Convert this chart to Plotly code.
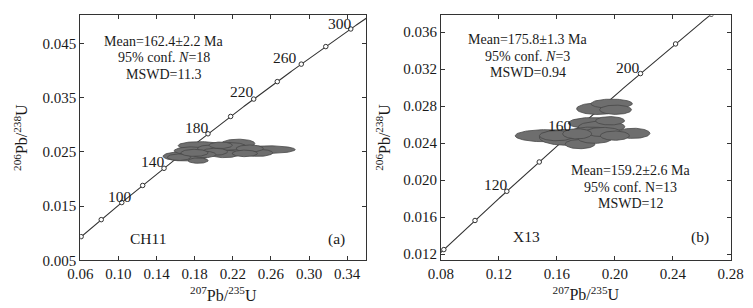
import numpy as np
import plotly.graph_objects as go

# decay constants (per year)
LAMBDA_238 = 1.55125e-10
LAMBDA_235 = 9.8485e-10

# concordia age markers (Ma)
marker_ages_a = [60, 80, 100, 120, 140, 160, 180, 200, 220, 240, 260, 280, 300]
label_ages_a = [100, 140, 180, 220, 260, 300]
marker_ages_b = [80, 100, 120, 140, 160, 180, 200, 220, 240]
label_ages_b = [120, 160, 200]

# panel (a) CH11 ellipses: centre 207Pb/235U, centre 206Pb/238U, half-widths
a_x = [0.1854, 0.2256, 0.1702, 0.1836, 0.2571, 0.2290, 0.2116, 0.2466, 0.1768,
       0.1971, 0.2174, 0.2012, 0.2377, 0.1900, 0.1636, 0.2073, 0.2326, 0.1798]
a_y = [0.02615, 0.02652, 0.02418, 0.02337, 0.02540, 0.02504, 0.02461, 0.02480, 0.02520,
       0.02560, 0.02600, 0.02500, 0.02560, 0.02450, 0.02400, 0.02620, 0.02470, 0.02480]
a_ex = [0.0228, 0.0175, 0.0234, 0.0105, 0.0283, 0.0163, 0.0152, 0.0152, 0.0183,
        0.0142, 0.0163, 0.0132, 0.0142, 0.0122, 0.0122, 0.0122, 0.0132, 0.0142]
a_ey = [0.00072, 0.00080, 0.00088, 0.00050, 0.00070, 0.00070, 0.00070, 0.00065, 0.00070,
        0.00065, 0.00070, 0.00065, 0.00065, 0.00060, 0.00060, 0.00060, 0.00060, 0.00065]

# panel (b) X13 ellipses
b_x = [0.1879, 0.1978, 0.2005,
       0.1530, 0.1657, 0.1760, 0.1845, 0.1909, 0.1840, 0.2127, 0.1863, 0.1967, 0.1920,
       0.1600, 0.1740, 0.2000]
b_y = [0.02771, 0.02825, 0.02760,
       0.02479, 0.02462, 0.02389, 0.02616, 0.02576, 0.02508, 0.02505, 0.02447, 0.02641, 0.02519,
       0.02480, 0.02500, 0.02480]
b_ex = [0.0143, 0.0143, 0.0110,
        0.0218, 0.0178, 0.0103, 0.0166, 0.0160, 0.0160, 0.0115, 0.0115, 0.0100, 0.0120,
        0.0120, 0.0100, 0.0100]
b_ey = [0.00062, 0.00050, 0.00050,
        0.00066, 0.00085, 0.00050, 0.00060, 0.00060, 0.00065, 0.00055, 0.00050, 0.00045, 0.00050,
        0.00055, 0.00055, 0.00050]

x_ticks_a = [0.06, 0.10, 0.14, 0.18, 0.22, 0.26, 0.30, 0.34]
y_ticks_a = [0.005, 0.015, 0.025, 0.035, 0.045]
x_ticks_b = [0.08, 0.12, 0.16, 0.20, 0.24, 0.28]
y_ticks_b = [0.012, 0.016, 0.020, 0.024, 0.028, 0.032, 0.036]


def concordia(age_ma):
    t = np.asarray(age_ma, dtype=float) * 1e6
    return np.exp(LAMBDA_235 * t) - 1, np.exp(LAMBDA_238 * t) - 1


FONT = "Liberation Serif, Times New Roman, serif"
ELL_FILL = "#6e6e6e"
ELL_LINE = "#474747"
LINE_COL = "#333333"
TXT_COL = "#1a1a1a"

fig = go.Figure()


def add_panel(xs, ys, exs, eys, marker_ages, age_lo, age_hi, xa, ya):
    cx, cy = concordia(np.linspace(age_lo, age_hi, 300))
    fig.add_trace(go.Scatter(x=cx, y=cy, mode="lines",
                             line=dict(color=LINE_COL, width=1.1),
                             xaxis=xa, yaxis=ya, showlegend=False))
    mx, my = concordia(marker_ages)
    fig.add_trace(go.Scatter(x=mx, y=my, mode="markers",
                             marker=dict(symbol="circle", size=4.5, color="white",
                                         line=dict(color=LINE_COL, width=1)),
                             xaxis=xa, yaxis=ya, showlegend=False))
    theta = np.linspace(0, 2 * np.pi, 80)
    for ex_c, ey_c, ex, ey in zip(xs, ys, exs, eys):
        fig.add_trace(go.Scatter(
            x=ex_c + ex * np.cos(theta), y=ey_c + ey * np.sin(theta),
            mode="lines", fill="toself", fillcolor=ELL_FILL,
            line=dict(color=ELL_LINE, width=0.8),
            xaxis=xa, yaxis=ya, showlegend=False, hoverinfo="skip"))


add_panel(a_x, a_y, a_ex, a_ey, marker_ages_a, 50, 330, "x", "y")
add_panel(b_x, b_y, b_ex, b_ey, marker_ages_b, 70, 250, "x2", "y2")

axis_common = dict(showline=True, linecolor="#333", linewidth=1, mirror="ticks",
                   ticks="inside", ticklen=4, tickcolor="#333", showgrid=False,
                   zeroline=False, automargin=False,
                   tickfont=dict(family=FONT, size=15, color=TXT_COL))

title_x = "<sup>207</sup>Pb/<sup>235</sup>U"
title_y = "<sup>206</sup>Pb/<sup>238</sup>U"
title_font = dict(family=FONT, size=16, color=TXT_COL)

fig.update_layout(
    width=753, height=308, margin=dict(l=0, r=0, t=0, b=0),
    paper_bgcolor="white", plot_bgcolor="white",
    font=dict(family=FONT, size=15, color=TXT_COL),
    xaxis=dict(domain=[0.0960, 0.4758], range=[0.06, 0.36], tickvals=x_ticks_a,
               ticktext=[f"{v:.2f}" for v in x_ticks_a], anchor="y",
               title=dict(text=title_x, standoff=8, font=title_font),
               **axis_common),
    yaxis=dict(domain=[0.181, 0.977], range=[0.005, 0.0502], tickvals=y_ticks_a,
               ticktext=[f"{v:.3f}" for v in y_ticks_a], anchor="x",
               title=dict(text=title_y, standoff=10, font=title_font),
               **axis_common),
    xaxis2=dict(domain=[0.5750, 0.9598], range=[0.08, 0.28], tickvals=x_ticks_b,
                ticktext=[f"{v:.2f}" for v in x_ticks_b], anchor="y2",
                title=dict(text=title_x, standoff=8, font=title_font),
                **axis_common),
    yaxis2=dict(domain=[0.183, 0.976], range=[0.0114, 0.0378], tickvals=y_ticks_b,
                ticktext=[f"{v:.3f}" for v in y_ticks_b], anchor="x2",
                title=dict(text=title_y, standoff=8, font=title_font),
                **axis_common),
)

annos = []


def txt(text, x, y, xref, yref, size=15.5):
    annos.append(dict(text=text, x=x, y=y, xref=xref, yref=yref, showarrow=False,
                      xanchor="center", yanchor="middle",
                      font=dict(family=FONT, size=size, color=TXT_COL)))


# panel (a) texts (stat block)
txt("Mean=162.4±2.2 Ma", 0.1477, 0.04530, "x", "y", 14)
txt("95% conf. <i>N</i>=18", 0.1477, 0.04244, "x", "y", 14)
txt("MSWD=11.3", 0.1477, 0.03922, "x", "y", 14)
a_label_pos = {100: (0.1014, 0.01677), 140: (0.1363, 0.02318), 180: (0.1828, 0.02956),
               220: (0.2301, 0.03605), 260: (0.2746, 0.04242), 300: (0.3323, 0.04858)}
for age in label_ages_a:
    px, py = a_label_pos[age]
    txt(str(age), px, py, "x", "y")
txt("CH11", 0.1311, 0.00892, "x", "y")
txt("(a)", 0.3285, 0.00892, "x", "y")

# panel (b) texts
txt("Mean=175.8±1.3 Ma", 0.1398, 0.03516, "x2", "y2", 14)
txt("95% conf. <i>N</i>=3", 0.1398, 0.03337, "x2", "y2", 14)
txt("MSWD=0.94", 0.1398, 0.03159, "x2", "y2", 14)
b_label_pos = {120: (0.1182, 0.01949), 160: (0.1625, 0.02591), 200: (0.2089, 0.03222)}
for age in label_ages_b:
    px, py = b_label_pos[age]
    txt(str(age), px, py, "x2", "y2")
txt("Mean=159.2±2.6 Ma", 0.2105, 0.02099, "x2", "y2", 14)
txt("95% conf. N=13", 0.2105, 0.01921, "x2", "y2", 14)
txt("MSWD=12", 0.2105, 0.01743, "x2", "y2", 14)
txt("X13", 0.1392, 0.01391, "x2", "y2")
txt("(b)", 0.2589, 0.0138, "x2", "y2")

fig.update_layout(annotations=annos)
fig.write_html("out.html")
